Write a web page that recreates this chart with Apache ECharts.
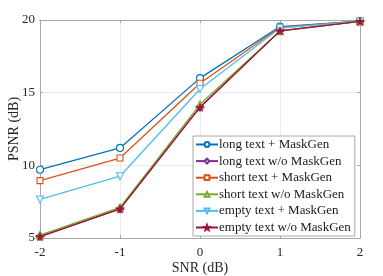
<!DOCTYPE html>
<html><head><meta charset="utf-8">
<script src="https://cdn.jsdelivr.net/npm/echarts@6/dist/echarts.min.js"></script>
<style>html,body{margin:0;padding:0;background:#fff}#c{width:383px;height:276px}</style>
</head><body><div id="c"></div>
<script>
const snr = [-2, -1, 0, 1, 2];
const longMask = [9.7, 11.2, 16.0, 19.55, 19.92];
const longNoMask = [5.1, 7.0, 14.0, 19.25, 19.9];
const shortMask = [8.95, 10.5, 15.65, 19.5, 19.92];
const shortNoMask = [5.2, 7.1, 14.2, 19.25, 19.9];
const emptyMask = [7.65, 9.25, 15.25, 19.45, 19.9];
const emptyNoMask = [5.1, 7.0, 14.0, 19.25, 19.9];
const names = ['long text + MaskGen','long text w/o MaskGen','short text + MaskGen','short text w/o MaskGen','empty text + MaskGen','empty text w/o MaskGen'];
const yTicks = [5, 10, 15, 20];

const starPath = 'path://M0,-10 L2.4,-3.3 L9.5,-3.1 L3.9,1.3 L5.9,8.1 L0,4.1 L-5.9,8.1 L-3.9,1.3 L-9.5,-3.1 L-2.4,-3.3 Z';
const styles = [
  {color:'#0072BD', symbol:'circle', fill:'none', size:7},
  {color:'#7E2F8E', symbol:'diamond', fill:'none', size:8},
  {color:'#D95319', symbol:'rect', fill:'none', size:6},
  {color:'#77AC30', symbol:'triangle', fill:'none', size:7},
  {color:'#4DBEEE', symbol:'path://M-5,-4 L5,-4 L0,5 Z', fill:'none', size:7},
  {color:'#A2142F', symbol:starPath, fill:'#A2142F', size:7}
];
const datas = [longMask, longNoMask, shortMask, shortNoMask, emptyMask, emptyNoMask];
const font = 'Liberation Serif';
const series = datas.map((d,i)=>({
  name: names[i], type:'line', data: snr.map((x,j)=>[x,d[j]]),
  symbol: styles[i].symbol, symbolSize: styles[i].size, showSymbol:true,
  lineStyle:{color:styles[i].color, width:1.3},
  itemStyle:{color: styles[i].fill==='none' ? '#ffffff' : styles[i].fill, borderColor:styles[i].color, borderWidth:1.1},
  z: 10 + i
}));
const chart = echarts.init(document.getElementById('c'));
const axisLine = {show:true, onZero:false, lineStyle:{color:'#a8a8a8', width:1}};
const tick = {show:true, inside:true, length:3, lineStyle:{color:'#a8a8a8'}};
chart.setOption({
  animation:false,
  grid:{left:40, right:23, top:20, bottom:38, show:false, containLabel:false, outerBoundsMode:'none'},
  xAxis:[{type:'value', min:-2, max:2, interval:1, position:'bottom',
    axisLine, axisTick:tick,
    axisLabel:{fontFamily:font, fontSize:13, color:'#262626', margin:8},
    splitLine:{show:true, lineStyle:{color:'#ebebeb', width:1}},
    name:'SNR (dB)', nameLocation:'middle', nameGap:23, nameMoveOverlap:false,
    nameTextStyle:{fontFamily:font, fontSize:14, color:'#262626'}},
   {type:'value', min:-2, max:2, interval:1, position:'top',
    axisLine, axisTick:tick, axisLabel:{show:false}, splitLine:{show:false}}],
  yAxis:[{type:'value', min:yTicks[0], max:yTicks[yTicks.length-1], interval:5, position:'left',
    axisLine, axisTick:tick,
    axisLabel:{fontFamily:font, fontSize:13, color:'#262626', margin:5},
    splitLine:{show:true, lineStyle:{color:'#ebebeb', width:1}},
    name:'PSNR (dB)', nameLocation:'middle', nameGap:19, nameMoveOverlap:false, nameRotate:90,
    nameTextStyle:{fontFamily:font, fontSize:14, color:'#262626'}},
   {type:'value', min:5, max:20, interval:5, position:'right',
    axisLine, axisTick:tick, axisLabel:{show:false}, splitLine:{show:false}}],
  legend:{orient:'vertical', left:193, top:136, data:names,
    backgroundColor:'#fff', borderColor:'#a8a8a8', borderWidth:1, padding:[2,4,2,2],
    itemWidth:22, itemHeight:6, itemGap:3.6,
    textStyle:{fontFamily:font, fontSize:13, color:'#1a1a1a', lineHeight:13, padding:[0,0,0,-4]}},
  series
});
</script></body></html>
